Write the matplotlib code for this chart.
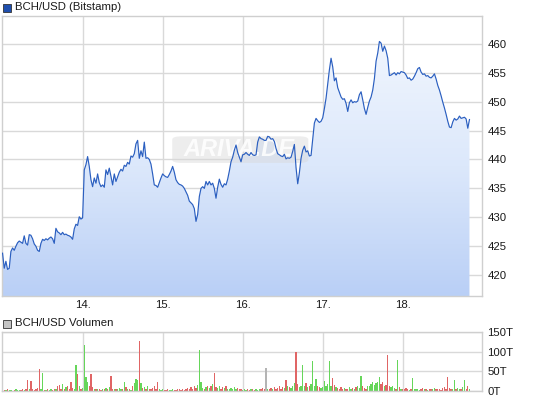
import numpy as np
import matplotlib
matplotlib.use('Agg')
import matplotlib.pyplot as plt
from matplotlib.colors import LinearSegmentedColormap
from matplotlib.patches import Rectangle, FancyBboxPatch

plt.rcParams['font.family'] = ['Liberation Sans', 'DejaVu Sans']

# BCH/USD, 30-minute closes, one row per day (13. .. 18.)
price_13 = [423.8, 421.2, 422.4, 421.0, 421.2, 424.1, 424.7, 424.3, 425.0, 425.6,
            425.9, 425.7, 425.5, 426.8, 425.5, 425.2, 427.0, 426.9, 426.3, 425.4,
            425.0, 424.3, 424.1, 425.5, 426.2, 426.0, 426.3, 426.1, 426.4, 426.6,
            426.3, 425.5, 428.1, 427.5, 427.3, 427.0, 427.4, 427.0, 427.1, 426.9,
            426.8, 426.6, 426.2, 428.0, 428.8, 428.6, 430.1, 429.7]
price_14 = [429.9, 438.2, 439.1, 440.5, 438.8, 436.5, 435.3, 436.8, 435.9, 437.5,
            436.0, 435.3, 435.6, 435.2, 438.2, 437.4, 438.5, 437.1, 435.6, 437.5,
            436.2, 437.0, 437.8, 438.3, 438.0, 439.0, 438.8, 439.5, 439.2, 440.6,
            440.4, 441.0, 442.7, 443.3, 440.2, 441.5, 440.5, 443.0, 440.2, 440.3,
            440.0, 439.2, 437.5, 435.6, 435.5, 435.2, 436.0, 436.8]
price_15 = [437.5, 437.2, 437.0, 436.9, 437.4, 438.0, 438.8, 437.8, 436.5, 436.0,
            435.7, 435.6, 435.4, 435.0, 434.4, 433.8, 432.8, 432.5, 432.2, 431.5,
            429.3, 430.5, 433.6, 435.0, 435.3, 435.0, 436.2, 435.6, 436.2, 435.6,
            435.9, 435.0, 433.3, 435.2, 436.6, 435.7, 435.2, 435.8, 435.6, 436.6,
            438.0, 439.6, 440.4, 441.6, 442.5, 441.2, 440.4, 439.6]
price_16 = [440.8, 440.9, 441.2, 440.9, 440.7, 441.2, 440.8, 440.7, 440.8, 443.0,
            443.9, 443.6, 443.5, 443.3, 443.3, 444.0, 443.9, 443.5, 443.6, 443.1,
            441.9, 441.0, 440.8, 440.6, 440.5, 440.9, 440.1, 440.3, 440.2, 440.4,
            441.4, 442.6, 438.6, 435.8, 437.7, 440.2, 441.6, 442.3, 441.3, 441.5,
            440.6, 440.7, 443.5, 446.3, 447.1, 446.7, 446.4, 446.6]
price_17 = [447.2, 448.8, 450.6, 453.0, 455.5, 457.5, 456.0, 453.6, 454.1, 452.4,
            451.6, 450.8, 450.4, 450.5, 449.7, 448.3, 449.8, 450.3, 449.8, 450.0,
            449.9, 450.1, 451.2, 451.7, 450.3, 448.8, 447.8, 449.0, 450.1, 450.8,
            452.0, 454.0, 457.0, 458.4, 460.4, 460.1, 458.7, 459.6, 458.8, 457.5,
            454.5, 454.6, 454.8, 455.0, 454.6, 455.0, 454.8, 455.2]
price_18 = [455.1, 455.0, 454.6, 454.0, 454.1, 453.7, 453.9, 454.4, 455.0, 455.7,
            455.9, 455.1, 454.7, 454.8, 454.4, 454.5, 454.2, 454.1, 454.4, 454.8,
            453.9, 452.8, 452.0, 451.0, 449.9, 448.9, 447.8, 446.6, 445.6, 445.5,
            446.5, 447.1, 446.8, 447.0, 447.5, 447.1, 447.2, 447.3, 447.0, 445.4,
            446.9]

# volume in thousands (T)
vol_13 = [4, 3, 2, 5, 2, 3, 1, 2, 4, 2,
          3, 2, 5, 3, 6, 28, 4, 25, 6, 3,
          5, 8, 57, 6, 45, 3, 2, 4, 3, 5,
          3, 6, 4, 12, 15, 5, 18, 6, 10, 14,
          4, 22, 8, 6, 67, 44, 12, 6]
vol_14 = [8, 119, 37, 24, 14, 44, 10, 6, 5, 4,
          6, 3, 5, 4, 8, 6, 10, 38, 5, 6,
          4, 6, 8, 5, 6, 22, 10, 4, 5, 3,
          12, 20, 30, 28, 127, 20, 8, 10, 6, 12,
          6, 4, 8, 14, 6, 24, 5, 3]
vol_15 = [4, 2, 3, 5, 2, 3, 4, 2, 3, 5,
          4, 2, 6, 3, 4, 8, 5, 10, 6, 12,
          8, 15, 104, 24, 8, 6, 10, 14, 8, 12,
          18, 47, 10, 8, 14, 6, 10, 8, 12, 5,
          6, 8, 4, 10, 6, 8, 5, 4]
vol_16 = [3, 5, 2, 4, 3, 6, 4, 2, 5, 3,
          6, 4, 8, 5, 59, 6, 4, 8, 5, 10,
          6, 8, 12, 6, 10, 8, 28, 14, 10, 8,
          12, 20, 100, 18, 10, 14, 67, 12, 20, 10,
          14, 18, 78, 12, 30, 14, 10, 8]
vol_17 = [10, 25, 14, 18, 78, 12, 34, 16, 10, 8,
          6, 10, 5, 8, 4, 6, 10, 5, 8, 6,
          10, 14, 8, 38, 12, 8, 6, 14, 12, 18,
          22, 16, 20, 24, 37, 18, 22, 14, 16, 93,
          14, 10, 12, 8, 6, 80, 10, 6]
vol_18 = [6, 4, 8, 5, 3, 6, 33, 5, 4, 6,
          3, 5, 8, 4, 6, 3, 5, 4, 6, 8,
          5, 4, 6, 3, 8, 10, 6, 36, 8, 5,
          6, 28, 4, 8, 6, 5, 10, 28, 6, 12,
          5]

day_ticks = [14, 15, 16, 17, 18]
price_ticks = [420, 425, 430, 435, 440, 445, 450, 455, 460]
vol_ticks = [0, 50, 100, 150]

price = np.array(price_13 + price_14 + price_15 + price_16 + price_17 + price_18)
vol = np.array(vol_13 + vol_14 + vol_15 + vol_16 + vol_17 + vol_18)
t = 13 + np.arange(len(price)) / 48.0

LINE = '#2b5fc0'
GRID = '#d9d9d9'
FRAME = '#cfcfcf'
TXT = '#1a1a1a'
UP = '#66d65a'
DOWN = '#e06565'
FLAT = '#b4b4b4'

XMIN, XMAX = 12.993, 18.99
YMIN, YMAX = 416.4, 464.8

fig = plt.figure(figsize=(5.45, 4.01), dpi=100)
ax = fig.add_axes([2 / 545, 1 - 296 / 401, 480 / 545, 280 / 401])
axv = fig.add_axes([2 / 545, 1 - 391 / 401, 480 / 545, 59 / 401])

for a in (ax, axv):
    a.set_xticks(day_ticks)
    a.grid(True, color=GRID, linewidth=1.0, zorder=0)
    a.set_axisbelow(True)
    for s in a.spines.values():
        s.set_color(FRAME)
        s.set_linewidth(1.0)
    a.yaxis.tick_right()
    a.tick_params(length=0, labelsize=8.2, colors=TXT, pad=4)

# --- price panel ---
ax.set_yticks(price_ticks)
ax.set_xticklabels([f'{d}.' for d in day_ticks])
ax.tick_params(axis='x', pad=3)

poly = ax.fill_between(t, price, YMIN, color='none', linewidth=0)
cmap = LinearSegmentedColormap.from_list('fill', ['#b9cff6', '#dce8fb', '#f1f6fe'])
grad = np.linspace(0, 1, 256).reshape(-1, 1)
im = ax.imshow(grad, extent=[XMIN, XMAX, YMIN, 461], aspect='auto', cmap=cmap,
               origin='lower', zorder=1, interpolation='bilinear')
im.set_clip_path(poly.get_paths()[0], transform=ax.transData)

# watermark
wm = FancyBboxPatch((15.12, 439.4), 1.7, 4.6, boxstyle='round,pad=0,rounding_size=0.12',
                    mutation_aspect=4.5, facecolor='#d8d8d8', edgecolor='none',
                    alpha=0.45, zorder=2)
ax.add_patch(wm)
ax.text(15.95, 441.7, 'ARIVA.DE', fontsize=17, fontweight='bold', style='italic',
        color='white', alpha=0.85, ha='center', va='center', zorder=2)

ax.plot(t, price, color=LINE, linewidth=0.85, zorder=3)
ax.set_xlim(XMIN, XMAX)
ax.set_ylim(YMIN, YMAX)

# --- volume panel ---
chg = np.diff(price, prepend=price[0] - 0.1)
colors = [UP if c > 0 else DOWN if c < 0 else FLAT for c in chg]
axv.bar(t, vol, width=0.75 / 48, color=colors, linewidth=0, antialiased=False, zorder=2)
axv.set_yticks(vol_ticks)
axv.set_yticklabels([f'{v}T' for v in vol_ticks])
axv.set_xticklabels([])
axv.set_xlim(XMIN, XMAX)
axv.set_ylim(0, 151)

# --- headers ---
fig.patches.append(Rectangle((3 / 545, 1 - 12 / 401), 8 / 545, 8 / 401, transform=fig.transFigure,
                             facecolor='#1f4fae', edgecolor='#333333', linewidth=0.6))
fig.text(15 / 545, 1 - 7.5 / 401, 'BCH/USD (Bitstamp)', fontsize=8.2, color=TXT, va='center')
fig.patches.append(Rectangle((3 / 545, 1 - 328 / 401), 8 / 545, 8 / 401, transform=fig.transFigure,
                             facecolor='#c4c4c4', edgecolor='#333333', linewidth=0.6))
fig.text(15 / 545, 1 - 323.5 / 401, 'BCH/USD Volumen', fontsize=8.2, color=TXT, va='center')

fig.savefig('out.png', dpi=100, facecolor='white')
